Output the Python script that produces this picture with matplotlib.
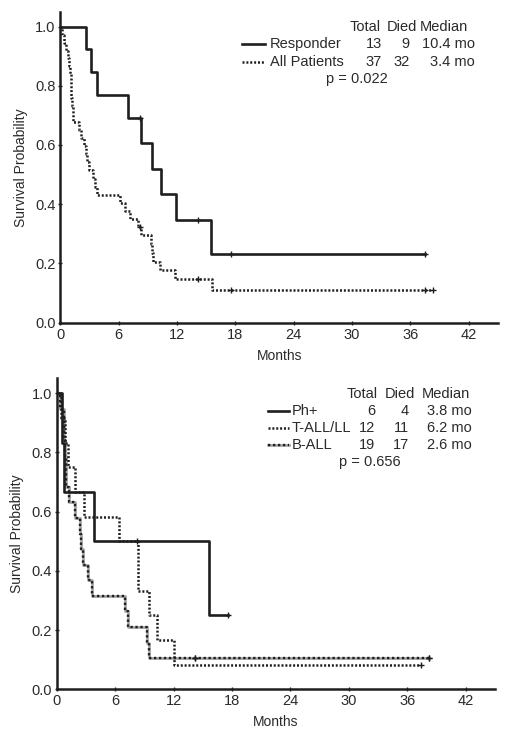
import numpy as np
import matplotlib
matplotlib.use("Agg")
import matplotlib.pyplot as plt
from matplotlib.lines import Line2D

plt.rcParams['font.family'] = ['Liberation Sans', 'DejaVu Sans']

# ---- top panel: Responder vs All Patients ----
resp_t = [2.65, 3.2, 3.8, 7.0, 8.3, 9.45, 10.4, 11.9, 15.5]
resp_s = [0.923, 0.846, 0.769, 0.692, 0.606, 0.519, 0.433, 0.346, 0.231]
resp_cens = [8.2, 14.2, 17.5, 37.5]

all_t = [0.15, 0.35, 0.55, 0.75, 0.85, 0.95, 1.05, 1.1, 1.15, 1.2, 1.3, 1.35,
         1.9, 2.1, 2.4, 2.6, 2.75, 2.9, 3.4, 3.6, 3.8, 6.15, 6.7, 7.2, 8.0,
         8.3, 9.3, 9.4, 9.5, 10.3, 11.8, 15.6]
all_s = [0.973, 0.946, 0.919, 0.892, 0.865, 0.838, 0.811, 0.784, 0.757, 0.730,
         0.703, 0.676, 0.649, 0.622, 0.595, 0.568, 0.541, 0.514, 0.486, 0.459,
         0.432, 0.405, 0.378, 0.351, 0.324, 0.295, 0.265, 0.236, 0.206, 0.177,
         0.147, 0.110]
all_cens = [8.2, 14.2, 17.5, 37.5, 38.3]

top_names = ["Responder", "All Patients"]
top_total = [13, 37]
top_died = [9, 32]
top_median = ["10.4 mo", "3.4 mo"]
top_p = "p = 0.022"

# ---- bottom panel: Ph+, T-ALL/LL, B-ALL ----
ph_t = [0.5, 0.75, 3.87, 15.6]
ph_s = [0.833, 0.667, 0.5, 0.25]
ph_cens = [8.2, 17.6]

tall_t = [0.4, 0.9, 1.2, 1.9, 2.8, 6.35, 8.3, 8.35, 9.45, 10.3, 12.0]
tall_s = [0.917, 0.833, 0.75, 0.667, 0.583, 0.5, 0.417, 0.333, 0.25, 0.167, 0.083]
tall_cens = [37.4]

ball_t = [0.3, 0.7, 0.8, 0.9, 0.95, 1.0, 1.3, 1.9, 2.4, 2.5, 2.7, 3.2, 3.6,
          7.0, 7.3, 9.3, 9.5]
ball_s = [0.947, 0.895, 0.842, 0.789, 0.737, 0.684, 0.632, 0.579, 0.526, 0.474,
          0.421, 0.368, 0.316, 0.263, 0.211, 0.158, 0.105]
ball_cens = [14.2, 38.2]

bot_names = ["Ph+", "T-ALL/LL", "B-ALL"]
bot_total = [6, 12, 19]
bot_died = [4, 11, 17]
bot_median = ["3.8 mo", "6.2 mo", "2.6 mo"]
bot_p = "p = 0.656"

xticks = [0, 6, 12, 18, 24, 30, 36, 42]
yticks = [0.0, 0.2, 0.4, 0.6, 0.8, 1.0]

W, H = 509, 741
INK = '#1e1e1e'
TXT = '#2a2a2a'
FS = 10.5

fig = plt.figure(figsize=(W / 100, H / 100), dpi=100)


def km(ax, t, s, cens, **kw):
    xs = np.r_[0, t, max(cens)]
    ys = np.r_[1.0, s, s[-1]]
    ax.step(xs, ys, where='post', **kw)
    # censor marks sit on the curve level at that time
    idx = np.searchsorted(np.asarray(t), cens, side='right')
    lev = np.r_[1.0, s][idx]
    ax.plot(cens, lev, ls='none', marker='+', ms=5, mew=1.0, color=INK, zorder=5)


def style(ax):
    for sp in ['top', 'right']:
        ax.spines[sp].set_visible(False)
    for sp in ['left', 'bottom']:
        ax.spines[sp].set_linewidth(1.8)
        ax.spines[sp].set_color(INK)
    ax.set_xlim(0, 45)
    ax.set_ylim(0, 1.05)
    ax.set_xticks(xticks)
    ax.set_yticks(yticks)
    ax.set_yticklabels(['%.1f' % v for v in yticks])
    ax.tick_params(direction='inout', length=3, width=1, colors=INK,
                   labelcolor=TXT, labelsize=FS, pad=2)
    ax.set_xlabel('Months', fontsize=10, color=TXT, labelpad=5)
    ax.set_ylabel('Survival Probability', fontsize=10, color=TXT, labelpad=5)


def fx(px):
    return px / W


def fy(py):
    return 1 - py / H


def table(names, total, died, median, p, styles, lx, nx, tx, dx, mx, hy, dy, px_p, hx):
    fig.text(fx(hx[0]), fy(hy), 'Total', ha='center', va='center', fontsize=FS, color=TXT)
    fig.text(fx(hx[1]), fy(hy), 'Died', ha='center', va='center', fontsize=FS, color=TXT)
    fig.text(fx(hx[2]), fy(hy), 'Median', ha='center', va='center', fontsize=FS, color=TXT)
    for i, name in enumerate(names):
        y = hy + dy * (i + 1)
        for st in styles[i]:
            fig.add_artist(Line2D([fx(lx[0]), fx(lx[1])], [fy(y), fy(y)],
                                  transform=fig.transFigure, **st))
        fig.text(fx(nx), fy(y), name, ha='left', va='center', fontsize=FS, color=TXT)
        fig.text(fx(tx), fy(y), str(total[i]), ha='right', va='center', fontsize=FS, color=TXT)
        fig.text(fx(dx), fy(y), str(died[i]), ha='right', va='center', fontsize=FS, color=TXT)
        fig.text(fx(mx), fy(y), median[i], ha='right', va='center', fontsize=FS, color=TXT)
    y = hy + dy * (len(names) + 1)
    fig.text(fx(px_p), fy(y), p, ha='center', va='center', fontsize=FS, color=TXT)


solid = [dict(color=INK, lw=1.9, ls='-')]
dotted = [dict(color=INK, lw=1.8, dashes=(0.8, 0.75))]
grey_dash = [dict(color='#a0a0a0', lw=1.9, ls='-'),
             dict(color=INK, lw=1.7, dashes=(1.0, 1.1))]

# top axes
ax1 = fig.add_axes([60.3 / W, 1 - 322.7 / H, (498 - 60.3) / W, 311 / H])
style(ax1)
km(ax1, resp_t, resp_s, resp_cens, **solid[0])
km(ax1, all_t, all_s, all_cens, **dotted[0])
table(top_names, top_total, top_died, top_median, top_p, [solid, dotted],
      (241.7, 265), 270, 381.7, 410, 475, 26.7, 17.5, 356.7, (365, 402, 444))

# bottom axes
ax2 = fig.add_axes([56.7 / W, 1 - 689.3 / H, (495 - 56.7) / W, 310.8 / H])
style(ax2)
for st in grey_dash:
    km(ax2, ball_t, ball_s, ball_cens, **st)
km(ax2, tall_t, tall_s, tall_cens, **dotted[0])
km(ax2, ph_t, ph_s, ph_cens, **solid[0])
table(bot_names, bot_total, bot_died, bot_median, bot_p, [solid, dotted, grey_dash],
      (268, 289), 291.7, 375, 409, 471.7, 394, 17, 370, (362.5, 400, 446))

fig.savefig('out.png', dpi=100)
